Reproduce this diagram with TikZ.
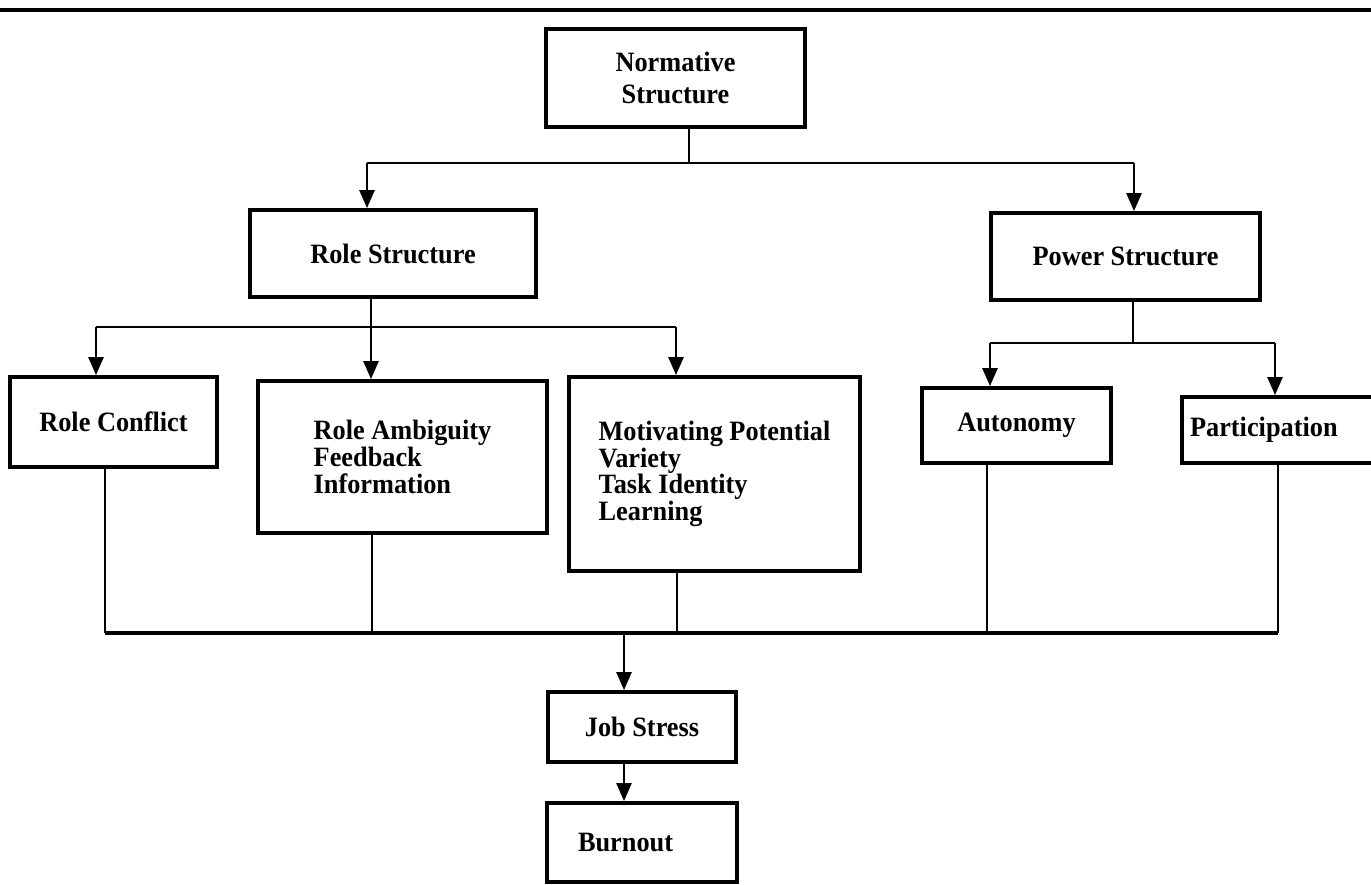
\documentclass[tikz,border=0pt]{standalone}
\usepackage{fontspec}
\setmainfont{Liberation Serif}[FakeStretch=0.94]
\usepackage{tikz}
\usetikzlibrary{arrows.meta, positioning, calc}

\begin{document}
\begin{tikzpicture}[x=0.5pt, y=-0.5pt,
	font=\fontsize{14}{13.3}\selectfont\bfseries,
	box/.style={draw, line width=1.9pt, inner sep=0pt, align=center},
	ln/.style={line width=1.3pt},
	bus/.style={line width=2pt},
	arr/.style={line width=1.3pt, -{Triangle[length=9pt, width=7.5pt]}}]
	\useasboundingbox (0,0) rectangle (1371,884);
	\draw[bus] (0,10) -- (1371,10);
	\node[box, minimum width=129.5pt, minimum height=49pt] (norm) at (675.5,78) {Normative\\[2.7pt]Structure};
	\node[box, minimum width=143pt, minimum height=43.5pt] (role) at (393,253.5) {Role Structure};
	\node[box, minimum width=134.5pt, minimum height=43.5pt] (power) at (1125.5,256.5) {Power Structure};
	\node[box, minimum width=103.5pt, minimum height=45pt] (conflict) at (113.5,422) {Role Conflict};
	\node[box, align=left, minimum width=144.5pt, minimum height=76pt] (ambig) at (402.5,457) {Role Ambiguity\\Feedback\\Information};
	\node[box, align=left, minimum width=145.5pt, minimum height=97pt] (motiv) at (714.5,474) {Motivating Potential\\Variety\\Task Identity\\Learning};
	\node[box, minimum width=94.5pt, minimum height=37.5pt] (auton) at (1016.5,425.5) {Autonomy};
	\node[box, align=left, text width=91pt, minimum width=99pt, minimum height=33pt] (partic) at (1281,430) {Participation};
	\node[box, minimum width=94pt, minimum height=35pt] (stress) at (642,727) {Job Stress};
	\node[box, align=left, text width=64pt, minimum width=95pt, minimum height=39.5pt] (burn) at (642,842.5) {Burnout};
	\coordinate (j0) at (689,163); \coordinate (jl) at (367,163); \coordinate (jr) at (1134,163);
	\coordinate (k0) at (371,327); \coordinate (kl) at (96,327); \coordinate (kr) at (676,327);
	\coordinate (m0) at (1133,343); \coordinate (ml) at (990,343); \coordinate (mr) at (1275,343);
	\coordinate (bl) at (105,633); \coordinate (br) at (1278,633); \coordinate (bs) at (624,633);
	\coordinate (ba) at (372,633); \coordinate (bm) at (677,633); \coordinate (bu) at (987,633);
	\draw[ln] (norm.south -| j0) -- (j0); \draw[ln] (jl) -- (jr);
	\draw[arr] (jl) -- (jl |- role.north); \draw[arr] (jr) -- (jr |- power.north);
	\draw[arr] (role.south -| k0) -- (k0 |- ambig.north); \draw[ln] (kl) -- (kr);
	\draw[arr] (kl) -- (kl |- conflict.north); \draw[arr] (kr) -- (kr |- motiv.north);
	\draw[ln] (power.south -| m0) -- (m0); \draw[ln] (ml) -- (mr);
	\draw[arr] (ml) -- (ml |- auton.north); \draw[arr] (mr) -- (mr |- partic.north);
	\draw[ln] (conflict.south -| bl) -- (bl); \draw[ln] (ambig.south -| ba) -- (ba);
	\draw[ln] (motiv.south -| bm) -- (bm); \draw[ln] (auton.south -| bu) -- (bu);
	\draw[ln] (partic.south -| br) -- (br);
	\draw[bus] (bl) -- (br);
	\draw[arr] (bs) -- (bs |- stress.north); \draw[arr] (stress.south -| bs) -- (bs |- burn.north);
\end{tikzpicture}
\end{document}
